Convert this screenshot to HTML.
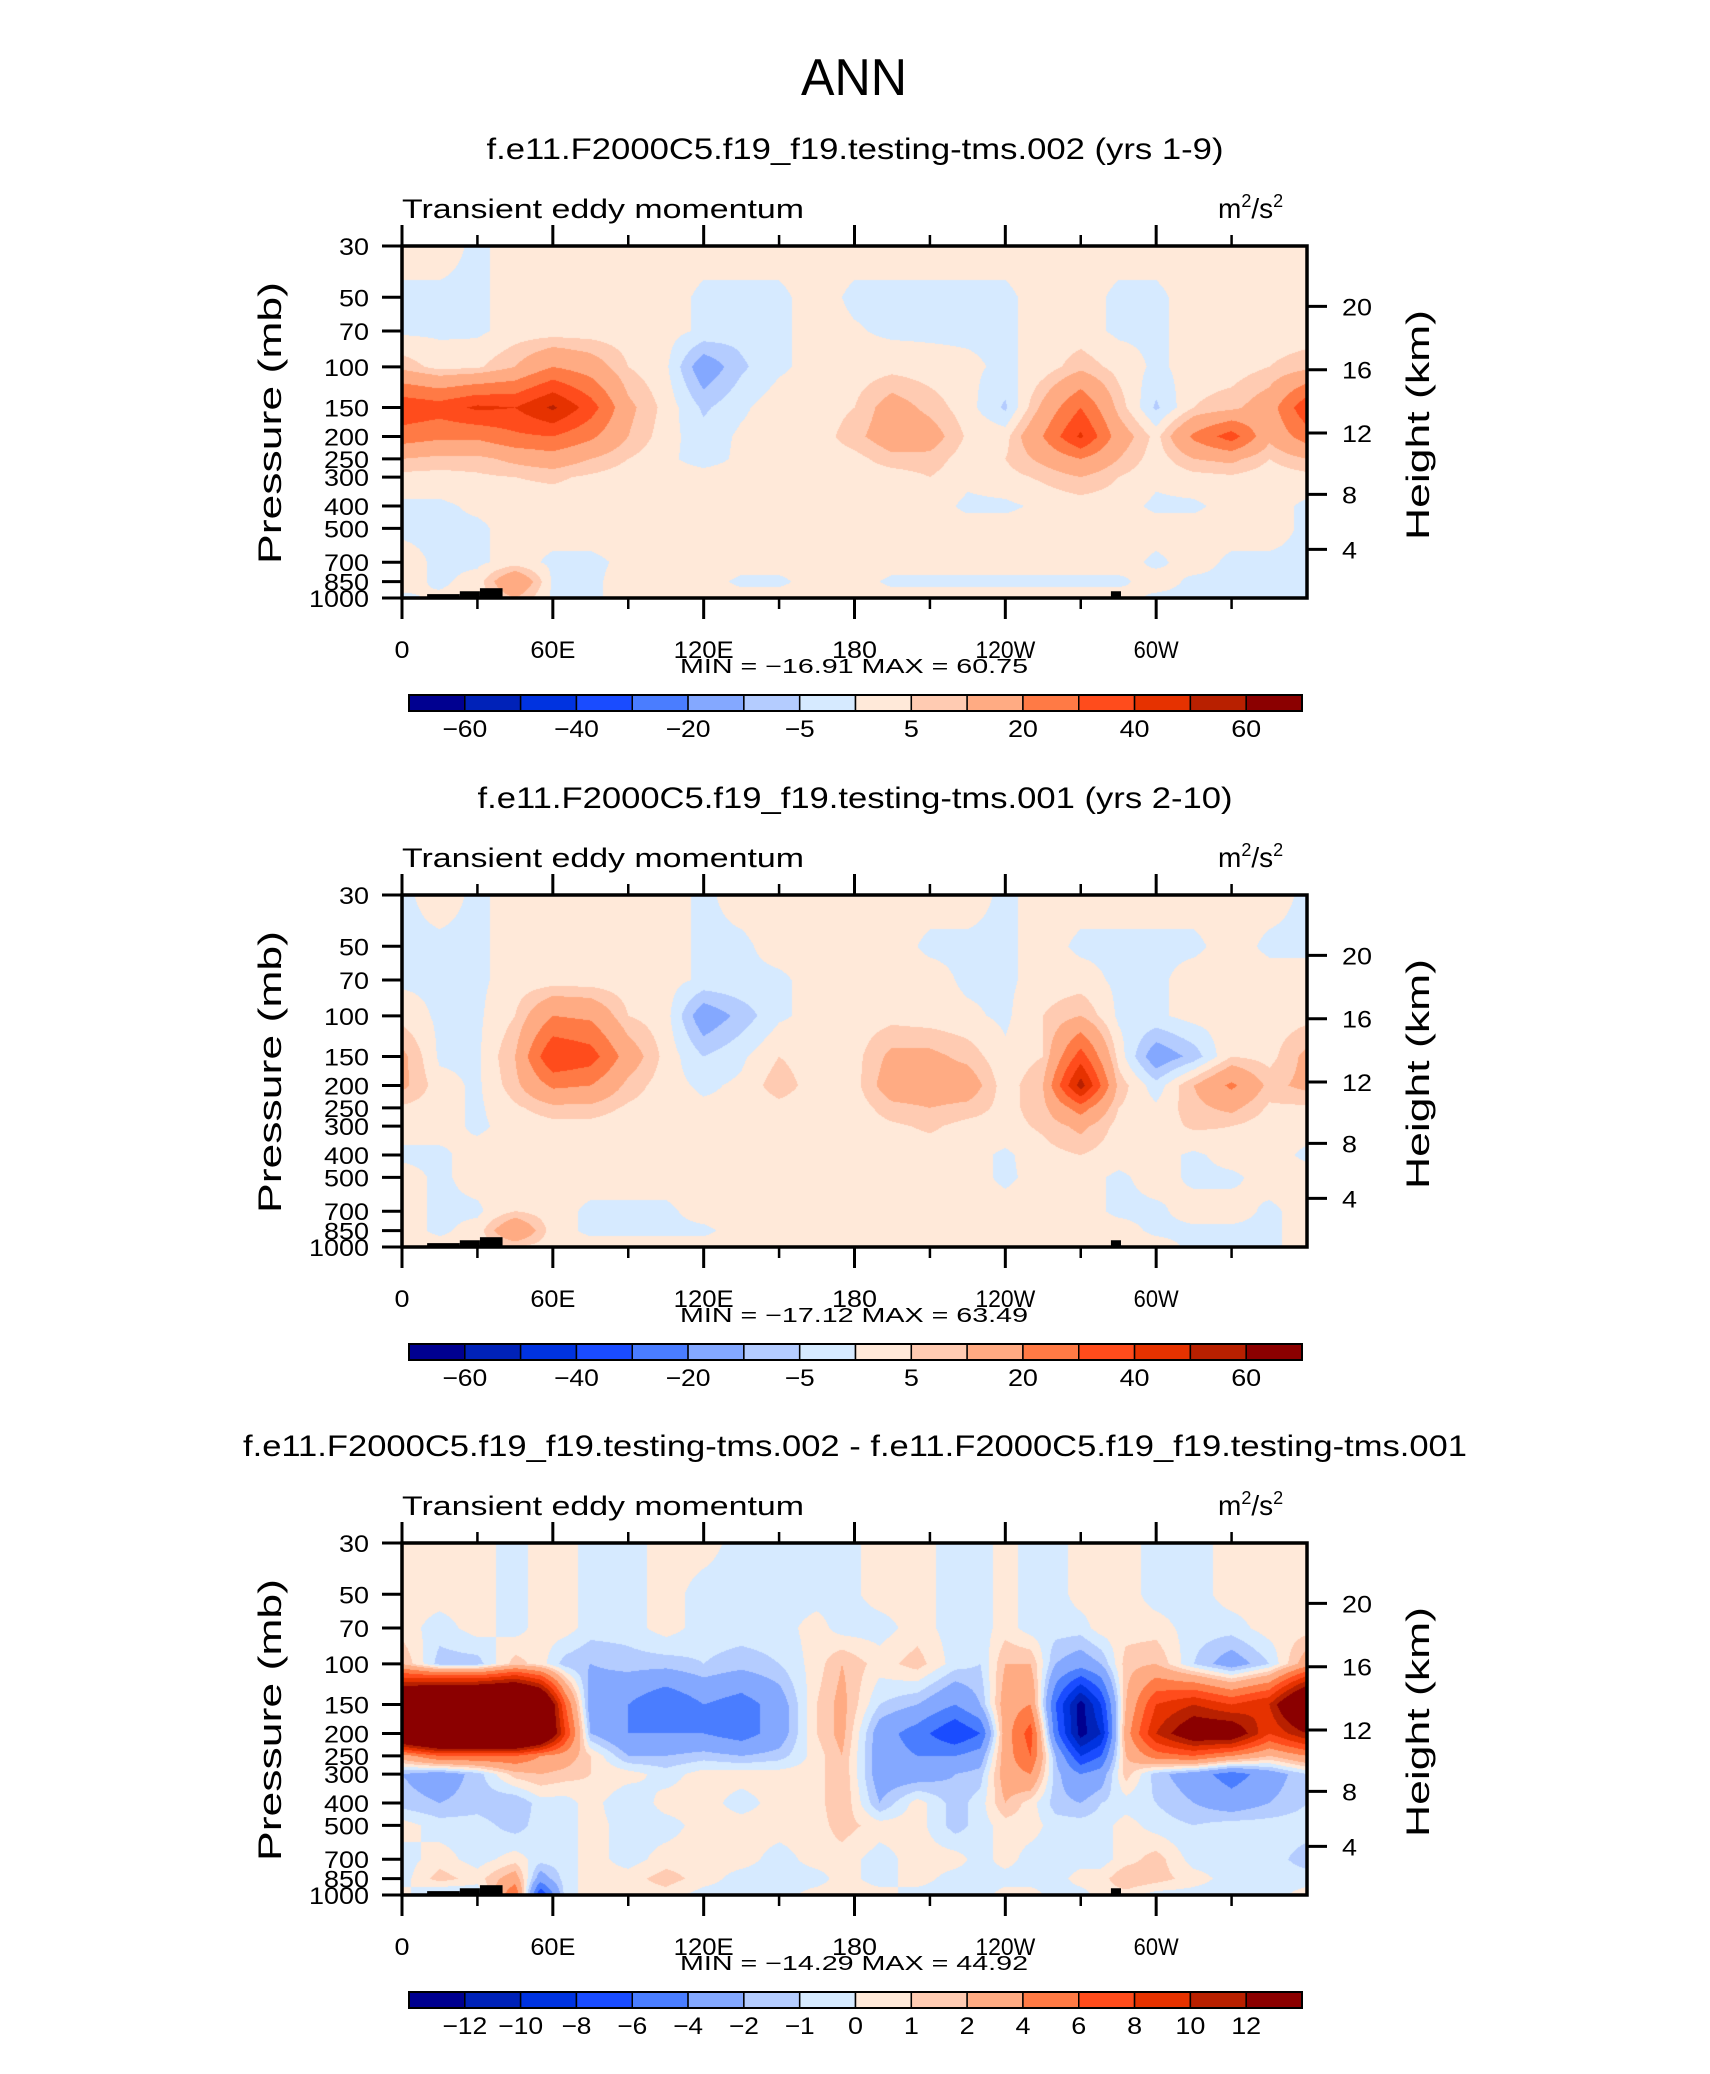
<!DOCTYPE html>
<html><head><meta charset="utf-8">
<style>
html,body{margin:0;padding:0;background:#fff;}
#root{position:relative;width:1710px;height:2074px;overflow:hidden;background:#fff;}
canvas{position:absolute;}
svg{position:absolute;left:0;top:0;}
text{font-family:"Liberation Sans","DejaVu Sans",sans-serif;fill:#000;}
</style></head>
<body>
<div id="root">
<canvas id="c0" width="905" height="352" style="left:402px;top:246px"></canvas>
<canvas id="c1" width="905" height="352" style="left:402px;top:895px"></canvas>
<canvas id="c2" width="905" height="352" style="left:402px;top:1543px"></canvas>
<svg id="ov" width="1710" height="2074" xmlns="http://www.w3.org/2000/svg">
<text x="854" y="95" text-anchor="middle" font-size="52" textLength="106" lengthAdjust="spacingAndGlyphs" style="font-weight:300">ANN</text>
</svg>
</div>
<script>
// ---------- shared data ----------
const levels = [30,50,70,100,150,200,250,300,400,500,700,850,1000];
const pTickLabels = ['30','50','70','100','150','200','250','300','400','500','700','850','1000'];
const hTicks = [4,8,12,16,20];
const xTickLons = [0,60,120,180,240,300];
const xTickLabels = ['0','60E','120E','180','120W','60W'];
const xMinorLons = [30,90,150,210,270,330];
const colors = ['#000090','#0022b8','#0033e0','#1a4cff','#4a7dff','#84a8ff','#b4ccff','#d6eaff','#ffe9d9','#ffcbb2','#ffab83','#ff7a45','#ff4c1c','#e63200','#b82000','#8b0000'];
const cLevelsAbs = [-60,-50,-40,-30,-20,-10,-5,0,5,10,20,30,40,50,60];
const cLabelsAbs = ['-60','','-40','','-20','','-5','','5','','20','','40','','60'];
const cLevelsDiff = [-12,-10,-8,-6,-4,-2,-1,0,1,2,4,6,8,10,12];
const cLabelsDiff = ['-12','-10','-8','-6','-4','-2','-1','0','1','2','4','6','8','10','12'];
// terrain (lon start, lon end, surface pressure mb)
const terrLon0 = [10,23,31,98,108,282,286];
const terrLon1 = [23,31,40,108,125,286,310];
const terrP = [962,935,907,990,992,935,992];

// ---------- panel 1 ----------
const lons1 = [0,15,30,45,60,75,90,105,120,135,150,165,180,195,210,225,240,255,270,285,300,315,330,345,360];
const vals1 = [
[2,2,-1,2,2,2,2,2,2,2,2,2,2,2,2,2,2,2,2,2,2,2,2,2,2],
[-1,-1,-1,2,2,2,2,2,-1,-1,-1,2,-1,-1,-1,-1,-1,2,2,-1,-1,2,2,2,2],
[-1,-1,-1,2,2,2,2,2,-1,-3,-1,2,0.5,-1,-1,-1,-1,2,2,-1,-1,2,2,2,2],
[8,3,4,10,20,15,5,1,-15,-6,-1,2,2,3,2,1,-1,2,8,3,-1,2,2,5,8],
[38,35,42,40,52,35,12,3,-6,-1,3,2,5,14,8,2,-6,12,30,8,-6,5,8,15,38],
[25,22,22,28,30,22,10,2,-3,1,2,2,8,15,14,4,3,20,42,15,3,22,35,12,25],
[10,8,8,12,15,10,5,1,-2,1,2,2,3,8,8,2,5,12,20,10,2,10,12,5,10],
[3,3,4,5,6,4,2,2,2,2,2,2,2,2,5,1,3,6,10,5,1,3,4,2,3],
[-1,-1,1,2,2,2,2,2,2,2,2,2,2,2,2,-1,-1,1,2,2,-1,-1,2,2,-1],
[-1,-1,-1,2,2,2,2,2,2,2,2,2,2,2,2,2,2,2,2,2,2,2,2,2,-1],
[2,-1,-1,2,-1,-1,1,2,2,2,2,2,2,2,2,2,2,2,2,2,-1,2,-1,-1,-1],
[2,-1,2,20,-1,-1,2,2,2,-1,-1,2,2,-1,-1,-1,-1,-1,-1,-1,2,-1,-1,-1,-1],
[-1,1,2,10,-1,-1,2,2,2,2,2,2,2,2,2,2,2,2,2,2,-1,-1,-1,-1,-1]];

// ---------- panel 2 ----------
const lons2 = [0,15,30,45,60,75,90,105,120,135,150,165,180,195,210,225,240,255,270,285,300,315,330,345,360];
const vals2 = [
[-1,2,-1,2,2,2,2,2,-1,2,2,2,2,2,2,2,-1,2,2,2,2,2,2,2,-1],
[-1,-1,-1,2,2,2,2,2,-1,-1,2,2,2,2,-1,-1,-1,2,-1,-1,-1,-1,2,-1,-1],
[-1,-1,-1,2,2,2,2,2,-1,-1,-1,2,2,2,2,-1,-1,2,2,-1,-1,2,2,2,2],
[3,-1,-1,5,20,18,5,2,-15,-8,-1,2,2,3,2,1,-1,5,10,-1,-1,2,2,2,3],
[12,-1,-1,10,40,35,15,3,-5,-1,5,2,3,12,12,8,1,5,35,3,-15,-8,5,3,12],
[12,2,-1,8,22,20,8,2,-1,1,8,2,3,15,15,15,2,10,55,8,-3,10,22,8,12],
[4,2,-1,4,8,8,4,2,1,1,3,2,2,8,10,8,3,8,25,5,1,8,12,4,4],
[2,2,-1,2,3,3,2,2,2,2,2,2,2,4,6,3,3,6,12,3,2,6,5,2,2],
[-1,-1,2,2,2,2,2,2,2,2,2,2,2,2,2,2,-1,3,5,2,2,-1,2,2,-1],
[2,-1,2,2,2,2,2,2,2,2,2,2,2,2,2,2,-1,2,2,-1,2,-1,-1,2,2],
[2,-1,-1,5,2,-1,-1,-1,2,2,2,2,2,2,2,2,2,2,2,-1,-1,2,2,-1,2],
[2,-1,2,20,2,-1,-1,-1,-1,2,2,2,2,2,2,2,2,2,2,2,-1,-1,-1,-1,2],
[2,2,2,5,2,2,2,2,2,2,2,2,2,2,2,2,2,2,2,2,2,-1,-1,-1,2]];

// ---------- panel 3 (difference) ----------
const lons3 = [0,15,30,45,55,65,75,90,105,120,135,150,165,175,190,205,220,230,240,250,260,270,278,288,300,315,330,345,360];
const vals3 = [
[0.5,0.5,0.5,-0.5,0.5,0.5,-0.5,-0.5,0.5,0.5,-0.5,-0.5,-0.5,-0.5,0.5,0.5,-0.5,-0.5,0.5,-0.5,-0.5,0.5,0.5,0.5,-0.5,-0.5,0.5,0.5,0.5],
[0.5,0.5,0.5,-0.5,0.5,0.5,-0.5,-0.5,0.5,-0.5,-0.5,-0.5,-0.5,-0.5,0.5,0.5,-0.5,-0.5,0.5,-0.5,-0.5,0.5,0.5,0.5,-0.5,-0.5,0.5,0.5,0.5],
[0.5,-0.5,0.5,-0.5,0.5,0.5,-0.5,-0.5,0.5,-0.5,-0.5,-0.5,0.5,-0.5,-0.5,0.5,-0.5,-0.5,0.5,-0.5,-0.5,-0.5,0.5,0.5,0.5,-0.5,-0.5,0.5,0.5],
[2,-1.5,-1.5,1.5,0.5,-1.5,-2,-1.5,-1.5,-1,-1.5,-1,0.5,2,0.5,1.5,-0.5,-1,2,2,-2,-3,-2,1.5,2,-1,-3,-1,3],
[20,25,25,25,20,6,-3,-4,-6,-4,-5,-3,1,2.5,-1,-2,-4,-2,3,4,-6,-13,-8,2,8,10,8,10,20],
[20,25,25,25,20,8,-2,-4,-4,-4,-5,-3,1,2.5,-3,-5,-8,-6,3,7,-5,-13,-10,3,10,15,15,8,12],
[3,6,6,6,4,3,1,-2,-2,-1.5,-2,-1.5,0.5,2,-3,-4,-4,-3,3,6,-2,-8,-6,2,5,6,4,2,4],
[-2,-3,-1.5,1.5,2,1.5,1,0.5,-0.5,0.5,0.5,0.5,0.5,2,-3,-3,-2,-1.5,3,4,-1.5,-4,-3,1.5,-1.5,-3,-5,-3,-1],
[-1.5,-2,-1.5,-2,-0.5,-0.5,0.5,-1,0.5,0.5,-0.5,0.5,0.5,2,-2,0.5,-1.5,-0.5,2,0.5,-1.5,-2,-1,-0.5,-1,-2,-3,-2,-1],
[0.5,-0.5,-0.5,-1.5,-0.5,-0.5,0.5,-0.5,-0.5,0.5,0.5,0.5,0.5,1.5,0.5,0.5,-1.5,-0.5,0.5,0.5,-0.5,-0.5,-0.5,0.5,-0.5,-1,-0.5,-0.5,-0.5],
[-0.5,0.5,-0.5,0.5,-0.5,-0.5,0.5,-0.5,0.5,0.5,0.5,-0.5,0.5,0.5,-0.5,0.5,0.5,-0.5,0.5,-0.5,-0.5,-0.5,-0.5,0.5,1.5,-0.5,-0.5,-0.5,-1.5],
[-0.5,1.5,0.5,3,-3,-0.5,0.5,0.5,1.5,0.5,-0.5,-0.5,-0.5,0.5,-0.5,0.5,-0.5,-0.5,-0.5,-0.5,-0.5,0.5,0.5,2,1.5,0.5,-0.5,-0.5,-0.5],
[0.5,-1.5,-1,6,-8,-0.5,0.5,0.5,0.5,-0.5,-0.5,-0.5,0.5,0.5,0.5,-0.5,-0.5,-0.5,0.5,0.5,-0.5,-0.5,0.5,0.5,-0.5,-0.5,-0.5,-0.5,0.5]];

const panelTitles = ['f.e11.F2000C5.f19_f19.testing-tms.002 (yrs 1-9)','f.e11.F2000C5.f19_f19.testing-tms.001 (yrs 2-10)','f.e11.F2000C5.f19_f19.testing-tms.002 - f.e11.F2000C5.f19_f19.testing-tms.001'];
const minVals = ['-16.91','-17.12','-14.29'];
const maxVals = ['60.75','63.49','44.92'];

// ---------- geometry ----------
const PX = 402, PW = 905, PH = 352;
const tops = [246, 895, 1543];
const titleW = [737, 755, 1224];
const CW = 15; // per-character width of tick labels
const lg30 = Math.log10(30), lgSpan = Math.log10(1000/30);
function yOfP(p, top){ return top + (Math.log10(p) - lg30)/lgSpan*PH; }
function xOfLon(l){ return PX + l/360*PW; }
function pOfZ(zkm){ const z=zkm*1000; return z<=11000 ? 1013.25*Math.pow(1-2.25577e-5*z,5.25588) : 226.32*Math.exp(-(z-11000)/6341.6); }

function interp(lons, vals, lon, lp){
  const lv = levels.map(v=>Math.log10(v));
  let r=0; while(r<lv.length-2 && lp>lv[r+1]) r++;
  let c=0; while(c<lons.length-2 && lon>lons[c+1]) c++;
  const ty=Math.min(1,Math.max(0,(lp-lv[r])/(lv[r+1]-lv[r])));
  const tx=Math.min(1,Math.max(0,(lon-lons[c])/(lons[c+1]-lons[c])));
  const a=vals[r][c], b=vals[r][c+1], d=vals[r+1][c], e=vals[r+1][c+1];
  return (a*(1-tx)+b*tx)*(1-ty)+(d*(1-tx)+e*tx)*ty;
}
function hex(h){return [parseInt(h.substr(1,2),16),parseInt(h.substr(3,2),16),parseInt(h.substr(5,2),16)];}
const rgb = colors.map(hex);
function drawField(cid, lons, vals, lev){
  const cv=document.getElementById(cid), ctx=cv.getContext('2d');
  const img=ctx.createImageData(PW,PH);
  for(let j=0;j<PH;j++){
    const lp = lg30 + (j+0.5)/PH*lgSpan;
    for(let i=0;i<PW;i++){
      const lon=(i+0.5)/PW*360;
      const v=interp(lons,vals,lon,lp);
      let k=0; while(k<lev.length && v>=lev[k]) k++;
      const c=rgb[k], o=(j*PW+i)*4;
      img.data[o]=c[0];img.data[o+1]=c[1];img.data[o+2]=c[2];img.data[o+3]=255;
    }
  }
  ctx.putImageData(img,0,0);
}
drawField('c0',lons1,vals1,cLevelsAbs);
drawField('c1',lons2,vals2,cLevelsAbs);
drawField('c2',lons3,vals3,cLevelsDiff);

// ---------- SVG overlay ----------
const NS='http://www.w3.org/2000/svg';
const ov=document.getElementById('ov');
function mk(tag, attrs, parent){
  const e=document.createElementNS(NS,tag);
  for(const k in attrs) e.setAttribute(k,attrs[k]);
  (parent||ov).appendChild(e); return e;
}
for(let pi=0;pi<3;pi++){
  const top=tops[pi];
  const g=mk('g',{});
  
  
  // terrain
  for(let t=0;t<terrP.length;t++){
    const r=mk('rect',{x:xOfLon(terrLon0[t]),y:yOfP(terrP[t],top),width:xOfLon(terrLon1[t])-xOfLon(terrLon0[t]),height:top+PH-yOfP(terrP[t],top)+1,fill:'#000'},g);
    
    
  }
  // frame
  const fr=mk('rect',{x:PX,y:top,width:PW,height:PH,fill:'none',stroke:'#000','stroke-width':3.5},g);
  
  
  // x ticks
  for(let k=0;k<xTickLons.length;k++){
    const x=xOfLon(xTickLons[k]);
    mk('line',{x1:x,x2:x,y1:top-21,y2:top,stroke:'#000','stroke-width':3},g);
    mk('line',{x1:x,x2:x,y1:top+PH,y2:top+PH+21,stroke:'#000','stroke-width':3},g);
    const tl=mk('text',{x:x,y:top+412,'text-anchor':'middle','font-size':24,textLength:xTickLabels[k].length*CW,lengthAdjust:'spacingAndGlyphs'},g);
    tl.textContent=xTickLabels[k];
    
    
  }
  for(let k=0;k<xMinorLons.length;k++){
    const x=xOfLon(xMinorLons[k]);
    mk('line',{x1:x,x2:x,y1:top-11,y2:top,stroke:'#000','stroke-width':2.5},g);
    mk('line',{x1:x,x2:x,y1:top+PH,y2:top+PH+11,stroke:'#000','stroke-width':2.5},g);
  }
  // pressure ticks
  for(let k=0;k<levels.length;k++){
    const y=yOfP(levels[k],top);
    mk('line',{x1:PX-20,x2:PX,y1:y,y2:y,stroke:'#000','stroke-width':3},g);
    const tl=mk('text',{x:369,y:y+9,'text-anchor':'end','font-size':24,textLength:pTickLabels[k].length*CW,lengthAdjust:'spacingAndGlyphs'},g);
    tl.textContent=pTickLabels[k];
    
    
  }
  // height ticks
  for(let k=0;k<hTicks.length;k++){
    const y=yOfP(pOfZ(hTicks[k]),top);
    mk('line',{x1:PX+PW,x2:PX+PW+20,y1:y,y2:y,stroke:'#000','stroke-width':3},g);
    const s=String(hTicks[k]);
    const tl=mk('text',{x:1342,y:y+9,'text-anchor':'start','font-size':24,textLength:s.length*CW,lengthAdjust:'spacingAndGlyphs'},g);
    tl.textContent=s;
    
    
  }
  // axis titles
  const ya=mk('text',{x:0,y:0,'text-anchor':'middle','font-size':32,textLength:282,lengthAdjust:'spacingAndGlyphs',transform:'translate(281,'+(top+177)+') rotate(-90)'},g);
  ya.textContent='Pressure  (mb)';
  
  
  const ha=mk('text',{x:0,y:0,'text-anchor':'middle','font-size':32,textLength:230,lengthAdjust:'spacingAndGlyphs',transform:'translate(1429,'+(top+179)+') rotate(-90)'},g);
  ha.textContent='Height  (km)';
  
  
  // titles
  const st=mk('text',{x:855,y:top-87,'text-anchor':'middle','font-size':30,textLength:titleW[pi],lengthAdjust:'spacingAndGlyphs'},g);
  st.textContent=panelTitles[pi];
  
  
  const lt=mk('text',{x:402,y:top-28,'font-size':27,textLength:402,lengthAdjust:'spacingAndGlyphs'},g);
  lt.textContent='Transient eddy momentum';
  
  
  const un=mk('text',{x:1218,y:top-28,'font-size':28},g);
  
  
  un.innerHTML='m<tspan font-size="18" dy="-11">2</tspan><tspan dy="11">/s</tspan><tspan font-size="18" dy="-11">2</tspan>';
  const mm=mk('text',{x:854,y:top+427,'text-anchor':'middle','font-size':20,textLength:348,lengthAdjust:'spacingAndGlyphs','xml:space':'preserve'},g);
  mm.textContent='MIN = \u2212'+minVals[pi].slice(1)+'   MAX =   '+maxVals[pi];
  
  
  // colorbar
  const cbx=409, cbw=893, cby=top+449, cbh=16, bw=cbw/16;
  const lev = pi<2 ? cLabelsAbs : cLabelsDiff;
  for(let k=0;k<16;k++){
    const r=mk('rect',{x:cbx+k*bw,y:cby,width:bw,height:cbh,fill:colors[k],stroke:'#000','stroke-width':1.5},g);
    
    
  }
  mk('rect',{x:cbx,y:cby,width:cbw,height:cbh,fill:'none',stroke:'#000','stroke-width':2},g);
  for(let k=0;k<15;k++){
    if(!lev[k]) continue;
    const s=lev[k].replace('-','\u2212');
    const tl=mk('text',{x:cbx+(k+1)*bw,y:cby+42,'text-anchor':'middle','font-size':24,textLength:s.length*CW,lengthAdjust:'spacingAndGlyphs'},g);
    tl.textContent=s;
    
    
  }
}
</script>
</body></html>
